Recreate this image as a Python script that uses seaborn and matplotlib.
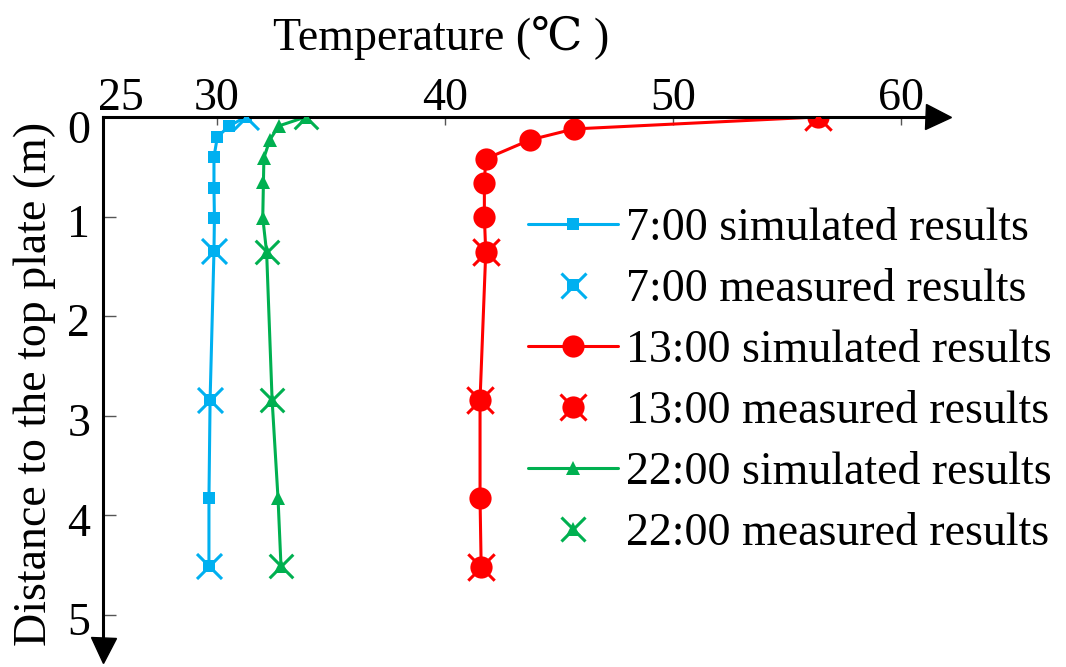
import matplotlib
matplotlib.use("Agg")
import matplotlib.pyplot as plt
import matplotlib.transforms as mtransforms
from matplotlib.lines import Line2D
from matplotlib.legend_handler import HandlerTuple
import seaborn as sns

# ---------------- data ----------------
depth_07_sim = [0, 0.09, 0.20, 0.40, 0.71, 1.01, 1.35, 2.84, 3.83, 4.51]
temp_07_sim = [31.27, 30.55, 30.03, 29.88, 29.88, 29.90, 29.88, 29.71, 29.66, 29.66]
depth_07_mea = [0, 1.35, 2.84, 4.51]
temp_07_mea = [31.27, 29.88, 29.71, 29.66]

depth_13_sim = [0, 0.12, 0.23, 0.42, 0.66, 1.00, 1.36, 2.84, 3.83, 4.52]
temp_13_sim = [56.36, 45.67, 43.74, 41.80, 41.74, 41.74, 41.80, 41.55, 41.55, 41.60]
depth_13_mea = [0, 1.36, 2.84, 4.52]
temp_13_mea = [56.36, 41.80, 41.55, 41.60]

depth_22_sim = [0, 0.09, 0.23, 0.41, 0.65, 1.01, 1.36, 2.84, 3.83, 4.51]
temp_22_sim = [33.90, 32.72, 32.33, 32.07, 32.05, 32.02, 32.19, 32.43, 32.69, 32.82]
depth_22_mea = [0, 1.36, 2.84, 4.51]
temp_22_mea = [33.90, 32.19, 32.43, 32.82]

series_labels = ["7:00 simulated results", "7:00 measured results",
                 "13:00 simulated results", "13:00 measured results",
                 "22:00 simulated results", "22:00 measured results"]
x_ticks = [25, 30, 40, 50, 60]
y_ticks = [0, 1, 2, 3, 4, 5]
x_title = "Temperature (\u2103 )"
y_title = "Distance to the top plate (m)"

# ---------------- style ----------------
sns.set_theme(style="white")
plt.rcParams["font.family"] = ["Liberation Serif", "DejaVu Serif"]
plt.rcParams["text.color"] = "black"
plt.rcParams["axes.labelcolor"] = "black"
plt.rcParams["xtick.color"] = "black"
plt.rcParams["ytick.color"] = "black"
FS = 33

BLUE = "#00B0F0"
RED = "#FF0000"
GREEN = "#00B050"

fig = plt.figure(figsize=(10.66, 6.67), dpi=100)
W, H = 1066, 667
ax_left, ax_right, ax_top, ax_bottom = 102.7, 938, 117, 650
ax = fig.add_axes([ax_left / W, 1 - ax_bottom / H,
                   (ax_right - ax_left) / W, (ax_bottom - ax_top) / H])

LW = 2.2
groups = [
    (temp_07_sim, depth_07_sim, temp_07_mea, depth_07_mea, BLUE, "s", 8, 18),
    (temp_13_sim, depth_13_sim, temp_13_mea, depth_13_mea, RED, "o", 16, 19),
    (temp_22_sim, depth_22_sim, temp_22_mea, depth_22_mea, GREEN, "^", 10, 17),
]
for ts, ds, tm, dm, col, mk, ms, xs in groups:
    sns.lineplot(x=ts, y=ds, sort=False, estimator=None, color=col, marker=mk,
                 markersize=ms, markeredgewidth=0, linewidth=LW, ax=ax,
                 legend=False, zorder=2)
    sns.scatterplot(x=tm, y=dm, marker="x", color=col, s=xs ** 2,
                    linewidth=2.2, ax=ax, legend=False, zorder=3)

ax.set_xlim(25, 25 + (ax_right - ax_left) / 22.8)
ax.set_ylim((ax_bottom - ax_top) / 99.6, 0)

# axes styling
ax.xaxis.tick_top()
ax.xaxis.set_label_position("top")
ax.set_xticks(x_ticks)
ax.set_yticks(y_ticks)
ax.set_xticklabels([str(t) for t in x_ticks])
ax.set_yticklabels([str(t) for t in y_ticks])
for s in ["right", "bottom"]:
    ax.spines[s].set_visible(False)
for s in ["top", "left"]:
    ax.spines[s].set_color("black")
    ax.spines[s].set_linewidth(2.2)
ax.tick_params(axis="x", direction="in", length=6, width=1.0, color="#555555",
               pad=-2, labelsize=FS, top=True, bottom=False, labelcolor="black")
ax.tick_params(axis="y", direction="in", length=9, width=1.0, color="#555555",
               pad=9, labelsize=FS, left=True, right=False, labelcolor="black")
ax.grid(False)

xl = ax.get_xticklabels()
xl[0].set_ha("left")
xl[0].set_transform(xl[0].get_transform() +
                    mtransforms.ScaledTranslation(-5 / 100, 0, fig.dpi_scale_trans))
for i, lab in enumerate(ax.get_yticklabels()):
    dy = -10 if i == 0 else -4
    lab.set_transform(lab.get_transform() +
                      mtransforms.ScaledTranslation(0, dy / 100, fig.dpi_scale_trans))

# arrows at the end of the axes
ax.plot([1], [1], marker=">", color="black", markersize=18, transform=ax.transAxes,
        clip_on=False)
ax.plot([0], [0], marker="v", color="black", markersize=18, transform=ax.transAxes,
        clip_on=False)

# axis titles
ax.set_xlabel(x_title, fontsize=FS, va="center", color="black")
ax.xaxis.set_label_coords((441 - ax_left) / (ax_right - ax_left),
                          1 + (ax_top - 38) / (ax_bottom - ax_top))
ax.set_ylabel(y_title, fontsize=FS, va="center", color="black")
ax.yaxis.set_label_coords((35 - ax_left) / (ax_right - ax_left), 0.5)

# legend
def mline(col, mk, ms):
    return Line2D([], [], color=col, marker=mk, markersize=ms, markeredgewidth=0,
                  linewidth=LW)

def mpair(col, mk, ms, xs):
    return (Line2D([], [], color=col, marker=mk, markersize=ms, markeredgewidth=0,
                   linestyle=""),
            Line2D([], [], color=col, marker="x", markersize=xs, markeredgewidth=2.2,
                   linestyle=""))

handles = []
for ts, ds, tm, dm, col, mk, ms, xs in groups:
    handles.append(mline(col, mk, ms))
    handles.append(mpair(col, mk, ms, xs))

leg = fig.legend(handles, series_labels, loc="upper left",
                 bbox_to_anchor=(528 / W, 1 - 208 / H), bbox_transform=fig.transFigure,
                 frameon=False, fontsize=FS, handlelength=1.96, handletextpad=0.17,
                 labelspacing=0.4, borderpad=0, borderaxespad=0, numpoints=1,
                 handler_map={tuple: HandlerTuple(ndivide=1)})
for t in leg.get_texts():
    t.set_color("black")

fig.savefig("out.png", dpi=100)
